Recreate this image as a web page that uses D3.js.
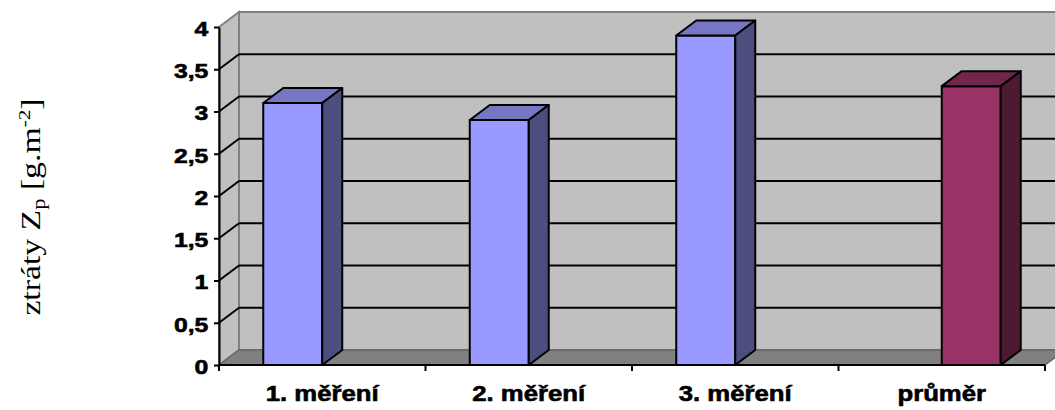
<!DOCTYPE html>
<html lang="cs">
<head>
<meta charset="UTF-8">
<title>ztráty Zp</title>
<script src="https://d3js.org/d3.v7.min.js"></script>
<style>
    body { margin: 0; background: #fff; }
    .lbl { font-family: "Liberation Sans", Arial, sans-serif; font-weight: bold; fill: #000; stroke: #000; stroke-width: 0.6px; }
    .ytitle { font-family: "Liberation Serif", "Times New Roman", serif; fill: #000; }
</style>
</head>
<body>
<div id="chart"></div>
<script>
    // data
    const categories = ["1. měření", "2. měření", "3. měření", "průměr"];
    const measured = [3.1, 2.9, 3.9, null];
    const average = [null, null, null, 3.3];
    const yTickValues = [0, 0.5, 1, 1.5, 2, 2.5, 3, 3.5, 4];

    const width = 1055, height = 410;
    const plot = { left: 219, right: 1045, top: 27, bottom: 365 };
    const depth = { dx: 20, dy: -15 };

    const seriesList = [
        { key: "measured", values: measured, front: "#9999ff", top: "#7676c2", side: "#4d4d80" },
        { key: "average", values: average, front: "#993366", top: "#73264d", side: "#4d1a33" }
    ];

    const svg = d3.select("#chart")
        .append("svg")
        .attr("width", width)
        .attr("height", height);

    const x = d3.scaleBand()
        .domain(categories)
        .range([plot.left, plot.right])
        .padding(0);

    const xs = d3.scaleBand()
        .domain(seriesList.map(d => d.key))
        .range([0, x.bandwidth()])
        .paddingInner(0)
        .paddingOuter(0.75);

    const y = d3.scaleLinear()
        .domain([0, 4])
        .range([plot.bottom, plot.top]);

    const pts = arr => arr.map(p => p.join(",")).join(" ");
    const y0 = y(0), yMax = y(4);
    const xl = plot.left, xr = plot.right;

    // back wall
    svg.append("polygon")
        .attr("points", pts([[xl + depth.dx, yMax + depth.dy], [xr + depth.dx, yMax + depth.dy],
                             [xr + depth.dx, y0 + depth.dy], [xl + depth.dx, y0 + depth.dy]]))
        .attr("fill", "#c0c0c0")
        .attr("stroke", "#808080")
        .attr("stroke-width", 2);

    // left wall
    svg.append("polygon")
        .attr("points", pts([[xl, yMax], [xl + depth.dx, yMax + depth.dy],
                             [xl + depth.dx, y0 + depth.dy], [xl, y0]]))
        .attr("fill", "#c0c0c0")
        .attr("stroke", "#808080")
        .attr("stroke-width", 2);

    // floor
    svg.append("polygon")
        .attr("points", pts([[xl, y0], [xl + depth.dx, y0 + depth.dy],
                             [xr + depth.dx, y0 + depth.dy], [xr, y0]]))
        .attr("fill", "#808080")
        .attr("stroke", "#666666")
        .attr("stroke-width", 1.5);

    // gridlines on back wall and side wall
    const gridVals = yTickValues.filter(v => v > 0 && v < 4);
    svg.append("g").selectAll("line.back")
        .data(gridVals)
        .enter().append("line")
        .attr("x1", xl + depth.dx).attr("x2", xr + depth.dx)
        .attr("y1", d => y(d) + depth.dy).attr("y2", d => y(d) + depth.dy)
        .attr("stroke", "#000").attr("stroke-width", 2);
    svg.append("g").selectAll("line.side")
        .data(gridVals)
        .enter().append("line")
        .attr("x1", xl).attr("x2", xl + depth.dx)
        .attr("y1", d => y(d)).attr("y2", d => y(d) + depth.dy)
        .attr("stroke", "#000").attr("stroke-width", 2);

    // y axis
    const yAxis = svg.append("g")
        .attr("transform", "translate(" + xl + ",0)")
        .call(d3.axisLeft(y)
            .tickValues(yTickValues)
            .tickSize(5)
            .tickSizeOuter(0)
            .tickFormat(d => String(d).replace(".", ",")))
        .attr("font-size", null)
        .attr("font-family", null);
    yAxis.select(".domain").attr("stroke", "#000").attr("stroke-width", 2);
    yAxis.selectAll(".tick line").attr("stroke", "#000").attr("stroke-width", 2);
    yAxis.selectAll(".tick text")
        .attr("class", "lbl")
        .attr("font-size", 21)
        .attr("x", -9)
        .attr("dy", "0.4em")
        .attr("transform", "scale(1.18,1)");

    // x axis
    svg.append("line")
        .attr("x1", xl).attr("x2", xr)
        .attr("y1", y0).attr("y2", y0)
        .attr("stroke", "#000").attr("stroke-width", 2);
    const bounds = categories.map(c => x(c)).concat([x.range()[1]]);
    svg.append("g").selectAll("line")
        .data(bounds)
        .enter().append("line")
        .attr("x1", d => d).attr("x2", d => d)
        .attr("y1", y0).attr("y2", y0 + 6)
        .attr("stroke", "#000").attr("stroke-width", 2);

    svg.append("g").selectAll("text")
        .data(categories)
        .enter().append("text")
        .attr("class", "lbl")
        .attr("font-size", 22)
        .attr("text-anchor", "middle")
        .attr("transform", d => "translate(" + (x(d) + x.bandwidth() / 2) + ",401) scale(1.17,1)")
        .text(d => d);

    // bars
    const bars = [];
    seriesList.forEach(s => {
        s.values.forEach((v, i) => {
            if (v != null) bars.push({ cat: categories[i], value: v, s: s });
        });
    });

    const barG = svg.append("g").selectAll("g")
        .data(bars)
        .enter().append("g");

    barG.each(function (d) {
        const g = d3.select(this);
        const x0 = x(d.cat) + xs(d.s.key);
        const x1 = x0 + xs.bandwidth();
        const yt = y(d.value), yb = y(0);
        g.append("rect")
            .attr("x", x0).attr("y", yt)
            .attr("width", x1 - x0).attr("height", yb - yt)
            .attr("fill", d.s.front);
        g.append("polygon")
            .attr("points", pts([[x0, yt], [x0 + depth.dx, yt + depth.dy], [x1 + depth.dx, yt + depth.dy], [x1, yt]]))
            .attr("fill", d.s.top);
        g.append("polygon")
            .attr("points", pts([[x1, yt], [x1 + depth.dx, yt + depth.dy], [x1 + depth.dx, yb + depth.dy], [x1, yb]]))
            .attr("fill", d.s.side);
        g.selectAll("rect, polygon")
            .attr("stroke", "#000")
            .attr("stroke-width", 2)
            .attr("stroke-linejoin", "round");
    });

    // y axis title
    const title = svg.append("text")
        .attr("class", "ytitle")
        .attr("font-size", 27)
        .attr("text-anchor", "middle")
        .attr("transform", "translate(40,207) rotate(-90) scale(1.25,1)");
    title.append("tspan").text("ztráty Z");
    title.append("tspan").attr("font-size", 18).attr("dy", 5).text("p");
    title.append("tspan").attr("dy", -5).text(" [g.m");
    title.append("tspan").attr("font-size", 17).attr("dy", -10).text("-2");
    title.append("tspan").attr("dy", 10).text("]");
</script>
</body>
</html>
